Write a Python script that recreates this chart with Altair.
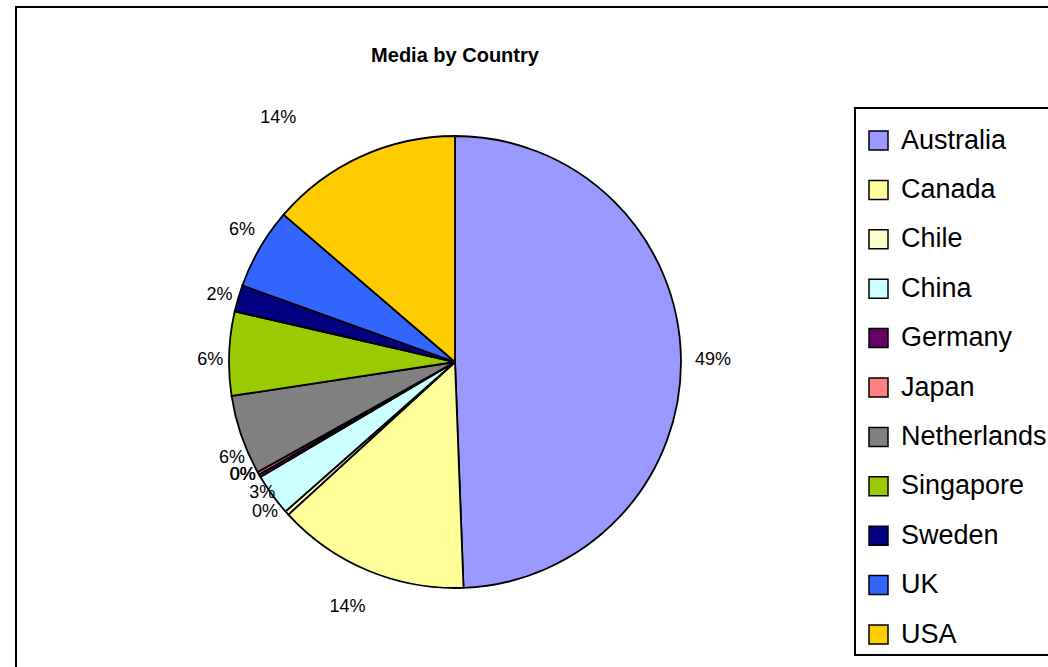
import math
import altair as alt
import pandas as pd

# ---- data ----
countries = ["Australia", "Canada", "Chile", "China", "Germany", "Japan",
             "Netherlands", "Singapore", "Sweden", "UK", "USA"]
shares = [49.4, 13.8, 0.3, 3.0, 0.2, 0.2, 5.7, 6.0, 1.9, 5.8, 13.7]
labels = ["49%", "14%", "0%", "3%", "0%", "0%", "6%", "6%", "2%", "6%", "14%"]
colors = ["#9999FF", "#FFFF99", "#FFFFCC", "#CCFFFF", "#660066", "#FF8080",
          "#808080", "#99CC00", "#000080", "#3366FF", "#FFCC00"]
title_text = "Media by Country"

df = pd.DataFrame({"country": countries, "share": shares, "label": labels,
                   "idx": list(range(len(countries)))})
total = float(sum(shares))

# ---- styling ----
FONT = "Liberation Sans"
CX, CY = 455, 362
R = 226
LABEL_R = 258
# per-label nudges (dx, dy) in pixels, to mimic the spreadsheet's label placement
NUDGE = {
    "Australia": (0, 3), "Canada": (-8, 7), "Chile": (2, -22), "China": (16, -21),
    "Germany": (11, -17), "Japan": (12, -14), "Netherlands": (21, 12),
    "Singapore": (13, 8), "Sweden": (12, 6), "UK": (10, -2), "USA": (-69, -10),
}

theta_scale = alt.Scale(domain=[0, total], range=[0, 2 * math.pi])

base = alt.Chart(df).transform_stack(
    stack="share", as_=["s0", "s1"], groupby=[], sort=[alt.SortField("idx")]
).transform_calculate(mid="(datum.s0 + datum.s1) / 2")

pie = base.mark_arc(outerRadius=R, stroke="black", strokeWidth=1.8).encode(
    x=alt.value(CX), y=alt.value(CY),
    theta=alt.Theta("s0:Q", scale=theta_scale),
    theta2="s1:Q",
    color=alt.Color(
        "country:N",
        scale=alt.Scale(domain=countries, range=colors),
        sort=countries,
        title=None,
        legend=alt.Legend(
            orient="none", legendX=865, legendY=127,
            symbolType="square", symbolSize=361, symbolStrokeColor="black",
            symbolStrokeWidth=1.5, symbolOpacity=1,
            labelFont=FONT, labelFontSize=27, labelColor="black",
            labelOffset=9, rowPadding=21.4, padding=0,
        ),
    ),
)

label_layers = []
for c in countries:
    dx, dy = NUDGE[c]
    label_layers.append(
        base.transform_filter(alt.datum.country == c)
        .mark_text(radius=LABEL_R, font=FONT, fontSize=18, color="black",
                   align="center", baseline="middle", dx=dx, dy=dy)
        .encode(x=alt.value(CX), y=alt.value(CY),
                theta=alt.Theta("mid:Q", scale=theta_scale),
                text="label:N")
    )

title_df = pd.DataFrame({"t": [title_text]})
title = alt.Chart(title_df).mark_text(
    font=FONT, fontSize=20, fontWeight="bold", color="black",
    align="center", baseline="alphabetic"
).encode(x=alt.value(455), y=alt.value(62), text="t:N")

frame_df = pd.DataFrame({"k": [0]})
frame = alt.Chart(frame_df).mark_rect(fill="white", stroke="black", strokeWidth=2).encode(
    x=alt.value(16), y=alt.value(7), x2=alt.value(1080), y2=alt.value(700)
)
legend_box = alt.Chart(frame_df).mark_rect(fill="white", stroke="black", strokeWidth=2).encode(
    x=alt.value(855), y=alt.value(108), x2=alt.value(1080), y2=alt.value(655)
)

chart = alt.layer(frame, legend_box, pie, *label_layers, title).properties(
    width=1048, height=667,
    autosize=alt.AutoSizeParams(type="none"),
    padding=0,
    background="white",
).configure_view(stroke=None)

chart.save("out.html", embed_options={"renderer": "svg", "actions": False})
